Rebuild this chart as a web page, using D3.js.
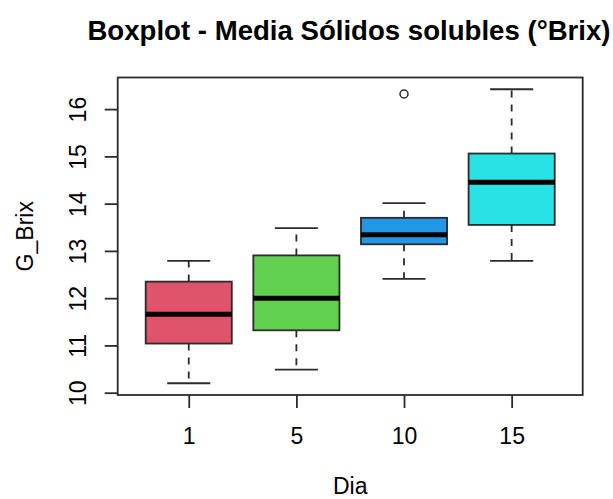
<!DOCTYPE html>
<html>
<head>
<meta charset="utf-8">
<script src="https://cdn.jsdelivr.net/npm/d3@7"></script>
<style>
  html, body { margin: 0; padding: 0; background: #fff; }
  svg { display: block; font-family: "Liberation Sans", Arial, sans-serif; }
</style>
</head>
<body>
<svg id="chart" width="613" height="499"></svg>
<script>
// Brix summary per sampling day
const days = ["1", "5", "10", "15"];
const whiskerLow = [10.2, 10.49, 12.41, 12.79];
const q1 = [11.04, 11.32, 13.14, 13.55];
const median = [11.66, 12.0, 13.34, 14.45];
const q3 = [12.35, 12.905, 13.70, 15.06];
const whiskerHigh = [12.79, 13.48, 14.01, 16.42];
const outliers = [[], [], [16.32], []];
const fills = ["#DF536B", "#61D04F", "#2297E6", "#28E2E5"];
const yTicks = [10, 11, 12, 13, 14, 15, 16];

const plot = { left: 117.7, right: 582.7, top: 77.5, bottom: 395 };
const ink = "#2b2b2b";
const lw = 1.8;
const font = "Liberation Sans, Arial, sans-serif";
const labelSize = 23;

const svg = d3.select("#chart");

// y range extended by 4% on both ends, like base graphics
const allVals = whiskerLow.concat(whiskerHigh, outliers.flat());
const lo = d3.min(allVals), hi = d3.max(allVals);
const pad = (hi - lo) * 0.04;
const y = d3.scaleLinear().domain([lo - pad, hi + pad]).range([plot.bottom, plot.top]);

// groups at 1..n inside [0.5, n+0.5], again extended by 4%
const n = days.length;
const xpad = n * 0.04;
const x = d3.scaleLinear().domain([0.5 - xpad, n + 0.5 + xpad]).range([plot.left, plot.right]);
const boxHalf = (x(1.4) - x(1));
const capHalf = boxHalf / 2;

const boxes = days.map((d, i) => ({
  day: d, pos: i + 1,
  lw: whiskerLow[i], q1: q1[i], med: median[i], q3: q3[i], hw: whiskerHigh[i],
  out: outliers[i], fill: fills[i]
}));

const g = svg.append("g");

// whiskers (dashed), caps, boxes, medians and outliers
boxes.forEach(b => {
  const cx = x(b.pos);
  g.append("line").attr("x1", cx).attr("x2", cx).attr("y1", y(b.q3)).attr("y2", y(b.hw))
    .attr("stroke", ink).attr("stroke-width", lw).attr("stroke-dasharray", "7,7");
  g.append("line").attr("x1", cx).attr("x2", cx).attr("y1", y(b.q1)).attr("y2", y(b.lw))
    .attr("stroke", ink).attr("stroke-width", lw).attr("stroke-dasharray", "7,7");
  [b.lw, b.hw].forEach(v => {
    g.append("line").attr("x1", cx - capHalf).attr("x2", cx + capHalf)
      .attr("y1", y(v)).attr("y2", y(v)).attr("stroke", ink).attr("stroke-width", lw);
  });
  g.append("rect").attr("x", cx - boxHalf).attr("width", 2 * boxHalf)
    .attr("y", y(b.q3)).attr("height", y(b.q1) - y(b.q3))
    .attr("fill", b.fill).attr("stroke", ink).attr("stroke-width", lw);
  g.append("line").attr("x1", cx - boxHalf).attr("x2", cx + boxHalf)
    .attr("y1", y(b.med)).attr("y2", y(b.med)).attr("stroke", "#000").attr("stroke-width", 5);
  b.out.forEach(v => {
    g.append("circle").attr("cx", cx).attr("cy", y(v)).attr("r", 4)
      .attr("fill", "none").attr("stroke", ink).attr("stroke-width", 1.5);
  });
});

// frame
svg.append("rect").attr("x", plot.left).attr("y", plot.top)
  .attr("width", plot.right - plot.left).attr("height", plot.bottom - plot.top)
  .attr("fill", "none").attr("stroke", ink).attr("stroke-width", lw);

// x axis
const xAxis = d3.axisBottom(x).tickValues(boxes.map(b => b.pos))
  .tickFormat((d, i) => days[i]).tickSizeOuter(0).tickSize(13);
const xg = svg.append("g").attr("transform", `translate(0,${plot.bottom})`).call(xAxis);
xg.select(".domain").remove();
xg.selectAll(".tick line").attr("stroke", ink).attr("stroke-width", lw);
xg.selectAll(".tick text").attr("y", 48.5).attr("dy", null)
  .attr("font-size", labelSize).attr("fill", "#000").attr("font-family", font);

// y axis with labels drawn parallel to the axis
const yAxis = d3.axisLeft(y).tickValues(yTicks).tickFormat(d3.format("d"))
  .tickSize(13).tickSizeOuter(0);
const yg = svg.append("g").attr("transform", `translate(${plot.left},0)`).call(yAxis);
yg.select(".domain").remove();
yg.selectAll(".tick line").attr("stroke", ink).attr("stroke-width", lw);
yg.selectAll(".tick text")
  .attr("x", null).attr("dy", null)
  .attr("transform", "translate(-31.5,0) rotate(-90)")
  .attr("text-anchor", "middle")
  .attr("font-size", labelSize).attr("fill", "#000").attr("font-family", font);

// axis titles
svg.append("text").attr("x", (plot.left + plot.right) / 2).attr("y", 494)
  .attr("text-anchor", "middle").attr("font-size", labelSize).text("Dia");
svg.append("text")
  .attr("transform", `translate(32.7,${(plot.top + plot.bottom) / 2}) rotate(-90)`)
  .attr("text-anchor", "middle").attr("font-size", labelSize).text("G_Brix");

// title
svg.append("text").attr("x", 349).attr("y", 40)
  .attr("text-anchor", "middle").attr("font-size", 27.6).attr("font-weight", "bold")
  .text("Boxplot - Media Sólidos solubles (°Brix)");
</script>
</body>
</html>
